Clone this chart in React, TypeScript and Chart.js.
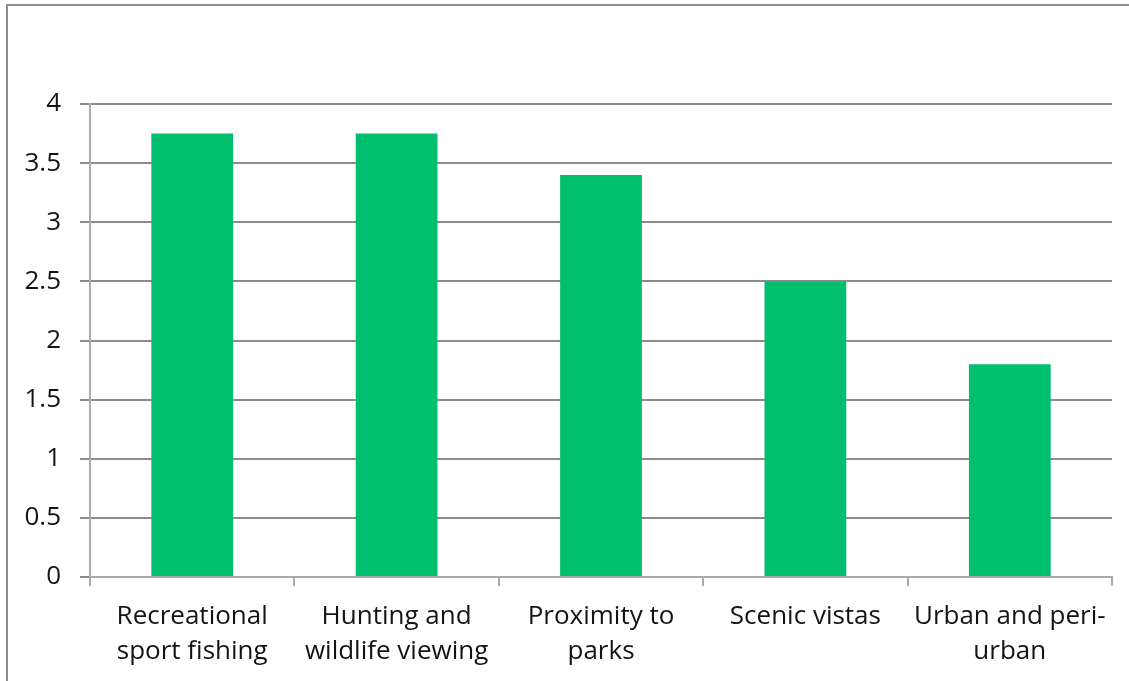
import React, { useEffect, useRef } from "react";
import { Chart, registerables } from "chart.js";

Chart.register(...registerables);

const categories: string[][] = [
  ["Recreational", "sport fishing"],
  ["Hunting and", "wildlife viewing"],
  ["Proximity to", "parks"],
  ["Scenic vistas"],
  ["Urban and peri-", "urban"],
];

const values: number[] = [3.75, 3.75, 3.4, 2.5, 1.8];

const yMin = 0;
const yMax = 4;
const yStep = 0.5;

const BAR_COLOR = "#00bf6f";
const GRID_COLOR = "#8c8c8c";
const AXIS_COLOR = "#ababab";
const TEXT_COLOR = "#141414";
const FONT_FAMILY = "'Open Sans', 'Noto Sans', sans-serif";

export default function App() {
  const canvasRef = useRef<HTMLCanvasElement | null>(null);

  useEffect(() => {
    const canvas = canvasRef.current;
    if (!canvas) return;
    const chart = new Chart(canvas, {
      type: "bar",
      data: {
        labels: categories,
        datasets: [
          {
            data: values,
            backgroundColor: BAR_COLOR,
            borderWidth: 0,
            barPercentage: 0.4,
            categoryPercentage: 1,
          },
        ],
      },
      options: {
        animation: false,
        responsive: false,
        maintainAspectRatio: false,
        layout: { padding: { top: 104, right: 17, left: 0, bottom: 0 } },
        plugins: {
          legend: { display: false },
          tooltip: { enabled: false },
        },
        scales: {
          x: {
            offset: true,
            grid: {
              offset: true,
              drawOnChartArea: false,
              drawTicks: true,
              tickLength: 9,
              color: AXIS_COLOR,
              lineWidth: 2,
            },
            border: { color: AXIS_COLOR, width: 2 },
            ticks: {
              color: TEXT_COLOR,
              font: { family: FONT_FAMILY, size: 26, lineHeight: 1.35 },
              padding: 13,
              maxRotation: 0,
              autoSkip: false,
            },
            afterFit: (scale: any) => {
              scale.height = 104;
            },
          },
          y: {
            min: yMin,
            max: yMax,
            ticks: {
              stepSize: yStep,
              color: TEXT_COLOR,
              font: { family: FONT_FAMILY, size: 26 },
              padding: 19,
              callback: (v: any) => String(Number(v)),
            },
            grid: {
              color: GRID_COLOR,
              lineWidth: 2,
              tickLength: 10,
            },
            border: { color: AXIS_COLOR, width: 2 },
            afterFit: (scale: any) => {
              scale.width = 90;
            },
          },
        },
      },
    });
    return () => chart.destroy();
  }, []);

  return (
    <div style={{ position: "fixed", left: 0, top: 0, width: 1129, height: 681, background: "#fff", overflow: "hidden" }}>
      <div
        style={{
          position: "absolute",
          left: 6,
          top: 4,
          width: 1200,
          height: 800,
          borderTop: "2px solid #8c8c8c",
          borderLeft: "2px solid #8c8c8c",
        }}
      />
      <canvas ref={canvasRef} width={1129} height={681} style={{ position: "absolute", left: 0, top: 0 }} />
    </div>
  );
}
